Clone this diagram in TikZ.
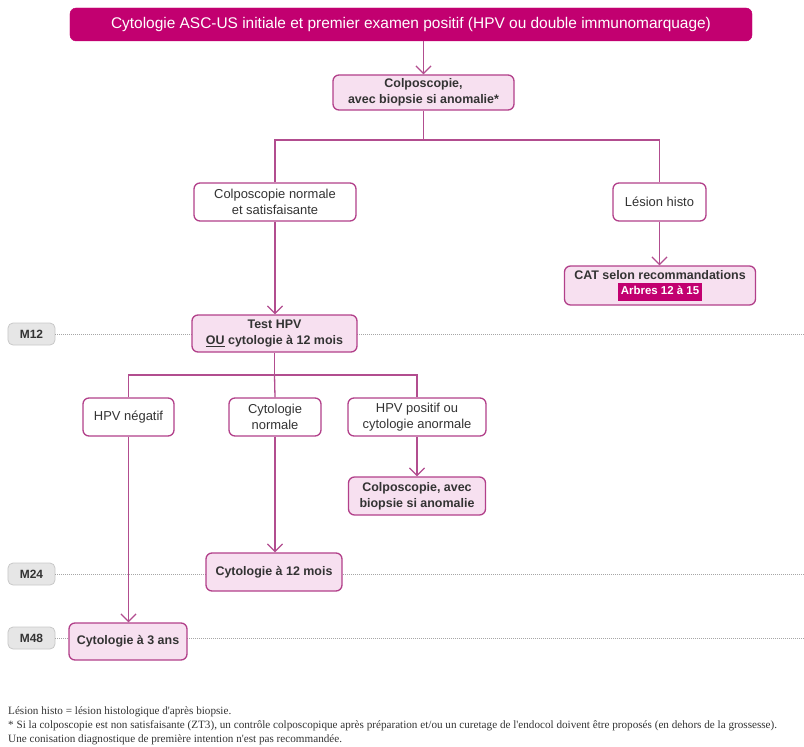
\documentclass[tikz,border=0pt]{standalone}
\usepackage{fontspec}
\setmainfont{Liberation Sans}
\newfontfamily\fnfont{Liberation Serif}
\usetikzlibrary{arrows.meta}
\definecolor{mag}{RGB}{194,0,112}
\definecolor{boxfill}{RGB}{247,224,240}
\definecolor{boxline}{RGB}{178,64,138}
\definecolor{conn}{RGB}{178,77,143}
\definecolor{txt}{RGB}{51,51,51}
\definecolor{mfill}{RGB}{230,230,230}
\definecolor{mline}{RGB}{200,200,200}
\tikzset{
  box/.style={draw=boxline, line width=1.3bp, fill=boxfill, rounded corners=6bp, align=center, inner sep=0pt, text=txt, font=\fontsize{12.5}{16}\selectfont\bfseries},
  wbox/.style={draw=boxline, line width=1.3bp, fill=white, rounded corners=6bp, align=center, inner sep=0pt, text=txt, font=\fontsize{13}{16}\selectfont},
  mbox/.style={draw=mline, line width=0.8bp, fill=mfill, rounded corners=5bp, inner sep=0pt, minimum width=47bp, minimum height=22bp, text=txt, font=\fontsize{12}{13}\selectfont\bfseries},
  conn/.style={draw=conn, line width=1.3bp},
  arr/.style={conn, -{Straight Barb[length=7.5bp,width=15bp,line width=1.3bp]}},
  dots/.style={draw=gray!70, line width=0.8bp, dash pattern=on 1bp off 1bp},
  foot/.style={anchor=west, inner sep=0pt, text=txt, font=\fnfont\fontsize{11.2}{12}\selectfont}
}
\begin{document}
\begin{tikzpicture}[x=1bp,y=-1bp]
\useasboundingbox (0,0) rectangle (804,747);
% timeline
\node[mbox] (m12) at (31.5,334) {M12};
\node[mbox] (m24) at (31.5,574) {M24};
\node[mbox] (m48) at (31.5,638) {M48};
\coordinate (e12) at (804,334);
\coordinate (e24) at (804,574);
\coordinate (e48) at (804,638);
\draw[dots] (m12.east) -- (e12);
\draw[dots] (m24.east) -- (e24);
\draw[dots] (m48.east) -- (e48);
% nodes
\node[draw=mag, fill=mag, rounded corners=6bp, minimum width=682bp, minimum height=33bp, inner sep=0pt, text=white, font=\fontsize{15.5}{17}\selectfont] (top) at (411,24.5) {Cytologie ASC-US initiale et premier examen positif (HPV ou double immunomarquage)};
\node[box, minimum width=181bp, minimum height=35bp] (colpo) at (423.5,92.5) {Colposcopie,\\avec biopsie si anomalie*};
\node[wbox, minimum width=162bp, minimum height=38bp] (cn) at (275,202) {Colposcopie normale\\et satisfaisante};
\node[wbox, minimum width=93bp, minimum height=38bp] (lh) at (659.5,202) {Lésion histo};
\node[box, minimum width=191bp, minimum height=39bp] (cat) at (660,285.5) {CAT selon recommandations\\[-1pt]\colorbox{mag}{\color{white}\fontsize{11.5}{12}\selectfont\bfseries\strut Arbres 12 à 15}};
\node[box, minimum width=165bp, minimum height=37bp] (test) at (274.5,333.5) {Test HPV\\\underline{OU} cytologie à 12 mois};
\node[wbox, minimum width=91bp, minimum height=38bp] (neg) at (128.5,417) {HPV négatif};
\node[wbox, minimum width=92bp, minimum height=38bp] (cyn) at (275,417) {Cytologie\\normale};
\node[wbox, minimum width=138bp, minimum height=38bp] (pos) at (417,417) {HPV positif ou\\cytologie anormale};
\node[box, minimum width=137bp, minimum height=38bp] (cab) at (417,496) {Colposcopie, avec\\biopsie si anomalie};
\node[box, minimum width=136bp, minimum height=38bp] (c12) at (274,572) {Cytologie à 12 mois};
\node[box, minimum width=118bp, minimum height=37bp] (c3) at (128,641.5) {Cytologie à 3 ans};
% connectors
\draw[arr] (top.south -| colpo) -- (colpo.north);
\coordinate (j1) at (423.5,140);
\draw[conn] (colpo.south) -- (j1);
\draw[conn] (cn.north) |- (j1) -| (lh.north);
\draw[arr] (lh.south) -- (lh.south |- cat.north);
\draw[arr] (cn.south) -- (cn.south |- test.north);
\coordinate (j2) at (274.5,375);
\draw[conn] (test.south) -- (j2);
\draw[conn] (neg.north) |- (j2) -| (pos.north);
\draw[conn] (j2) -- (cyn.north);
\draw[arr] (pos.south) -- (cab.north);
\draw[arr] (cyn.south) -- (cyn.south |- c12.north);
\draw[arr] (neg.south) -- (neg.south |- c3.north);
% footnotes
\node[foot] (f1) at (8,712) {Lésion histo = lésion histologique d'après biopsie.};
\node[foot] (f2) at (8,726) {* Si la colposcopie est non satisfaisante (ZT3), un contrôle colposcopique après préparation et/ou un curetage de l'endocol doivent être proposés (en dehors de la grossesse).};
\node[foot] (f3) at (8,740) {Une conisation diagnostique de première intention n'est pas recommandée.};
\end{tikzpicture}
\end{document}
